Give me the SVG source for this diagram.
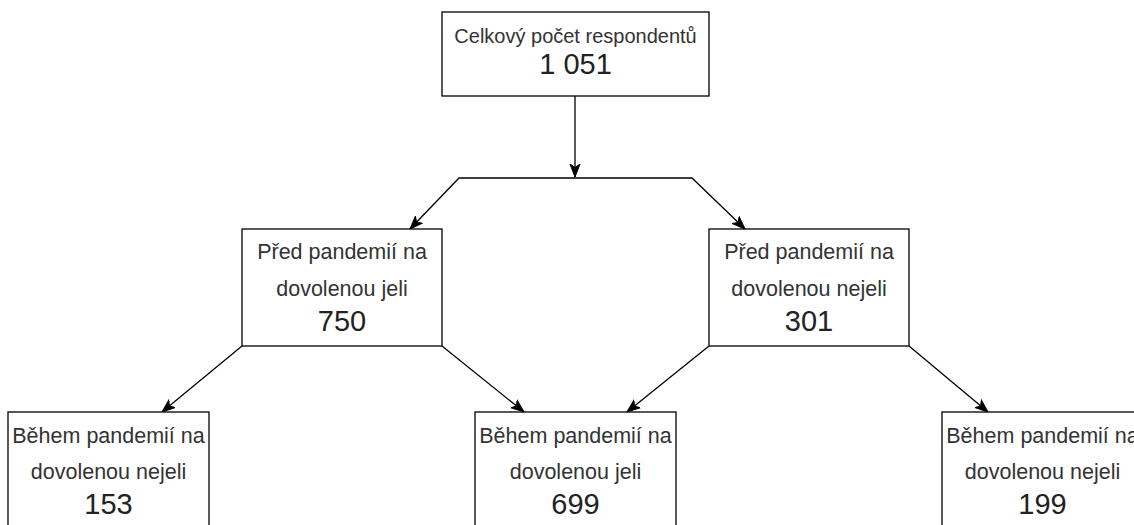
<svg xmlns="http://www.w3.org/2000/svg" width="1134" height="525" viewBox="0 0 1134 525">
<defs>
<style>
.box{fill:#fff;stroke:#000;stroke-width:1.3}
.t{font-family:"Liberation Sans",Arial,sans-serif;fill:#333;text-anchor:middle}
.s{font-size:21.5px}
.s0{font-size:20px}
.n{font-size:29px;fill:#222}
.c{fill:none;stroke:#000;stroke-width:1.3}
</style>
<marker id="ah" markerUnits="userSpaceOnUse" markerWidth="14" markerHeight="12" viewBox="0 0 14 12" refX="13" refY="6" orient="auto">
<path d="M0,1 L13,6 L0,11 L3.5,6 z" fill="#000" stroke="#000" stroke-width="1"/>
</marker>
</defs>
<rect width="1134" height="525" fill="#fff"/>
<g id="connectors">
<path class="c" d="M575,96 L575,177" marker-end="url(#ah)"/>
<path class="c" d="M575,178 L459,178 L410,229" marker-end="url(#ah)"/>
<path class="c" d="M575,178 L692,178 L745,229" marker-end="url(#ah)"/>
<path class="c" d="M242,346 L162,412" marker-end="url(#ah)"/>
<path class="c" d="M442,346 L524,412" marker-end="url(#ah)"/>
<path class="c" d="M709,346 L627,412" marker-end="url(#ah)"/>
<path class="c" d="M909,346 L988,412" marker-end="url(#ah)"/>
</g>
<g id="total">
<rect class="box" x="442" y="12" width="267" height="84"/>
<text class="t s0" x="575.5" y="43">Celkový počet respondentů</text>
<text class="t n" x="575.5" y="74">1 051</text>
</g>
<g id="before-went">
<rect class="box" x="242" y="229" width="200" height="117"/>
<text class="t s" x="342" y="259">Před pandemií na</text>
<text class="t s" x="342" y="296">dovolenou jeli</text>
<text class="t n" x="342" y="331">750</text>
</g>
<g id="before-notwent">
<rect class="box" x="709" y="229" width="200" height="117"/>
<text class="t s" x="809" y="259">Před pandemií na</text>
<text class="t s" x="809" y="296">dovolenou nejeli</text>
<text class="t n" x="809" y="331">301</text>
</g>
<g id="during-notwent-1">
<rect class="box" x="8" y="412" width="201" height="130"/>
<text class="t s" x="108.5" y="443">Během pandemií na</text>
<text class="t s" x="108.5" y="479">dovolenou nejeli</text>
<text class="t n" x="108.5" y="514">153</text>
</g>
<g id="during-went">
<rect class="box" x="475" y="412" width="201" height="130"/>
<text class="t s" x="575.5" y="443">Během pandemií na</text>
<text class="t s" x="575.5" y="479">dovolenou jeli</text>
<text class="t n" x="575.5" y="514">699</text>
</g>
<g id="during-notwent-2">
<rect class="box" x="942" y="412" width="201" height="130"/>
<text class="t s" x="1042.5" y="443">Během pandemií na</text>
<text class="t s" x="1042.5" y="479">dovolenou nejeli</text>
<text class="t n" x="1042.5" y="514">199</text>
</g>
</svg>
